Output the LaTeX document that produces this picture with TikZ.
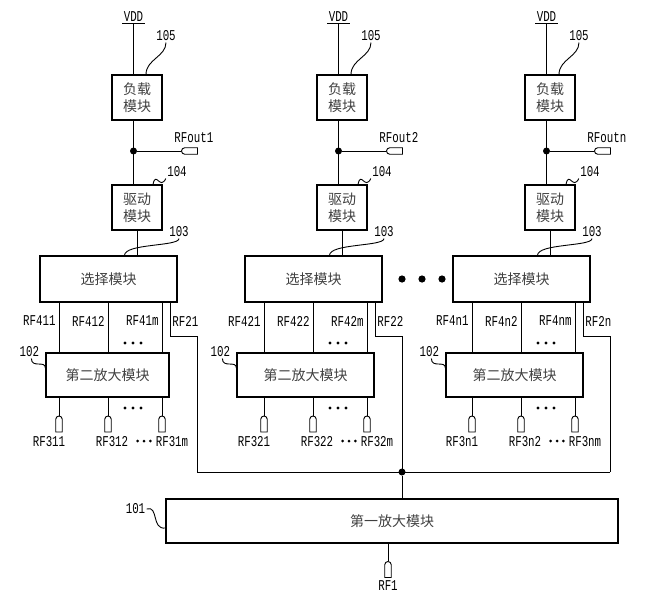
\documentclass[tikz,border=0pt]{standalone}
\usepackage{fontspec}
\setmainfont{Liberation Mono}[FakeStretch=0.72]
\newfontfamily\cjk{Noto Sans CJK SC}
\usetikzlibrary{shapes.misc}

\begin{document}
\begin{tikzpicture}[x=1pt, y=-1pt, line width=0.9pt,
  blk/.style={draw, line width=1.2pt, inner sep=0pt, align=center, text=black!75, font=\cjk\fontsize{14}{17}\selectfont},
  lbl/.style={inner sep=1pt, font=\fontsize{15}{17}\selectfont},
  port/.style={draw, line width=0.9pt, rounded rectangle, rounded rectangle east arc=none, minimum width=16pt, minimum height=6.5pt, inner sep=0pt},
  dot/.style={circle, fill, inner sep=0pt, minimum size=7pt}]
  \useasboundingbox (0,0) rectangle (662,605);

  \foreach \col/\nn/\cx/\aw/\ao in {1/1/137/123/-29.5, 2/2/342/137/-36.5, 3/n/550/137/-35.5}{
    % supply, load and driver
    \node[lbl, anchor=south] (vdd\col) at ({\cx-3.5},23) {VDD};
    \draw (vdd\col.south west) -- (vdd\col.south east);
    \node[blk, minimum width=50pt, minimum height=45pt] (load\col) at (\cx,97.5) {负载\\模块};
    \node[blk, minimum width=50pt, minimum height=45pt] (drv\col) at (\cx,207.5) {驱动\\模块};
    \node[dot] (j\col) at ({\cx-3.5},151) {};
    \node[port] (out\col) at ({\cx+52.5},151) {};
    \node[lbl, anchor=west] (rfo\col) at ({\cx+36},138) {RFout\nn};
    \draw (vdd\col.south) -- (load\col.north -| vdd\col.south);
    \draw (load\col.south -| j\col) -- (drv\col.north -| j\col);
    \draw (j\col) -- (out\col.west);

    % selection and second amplifier
    \node[blk, minimum width=137pt, minimum height=46pt] (sel\col) at ({\cx-28.5},279) {选择模块};
    \node[blk, minimum width=\aw pt, minimum height=44pt] (amp\col) at ({\cx+(\ao)},375) {第二放大模块};
    \draw (drv\col.south) -- (sel\col.north -| drv\col.south);
    \foreach \k/\dx/\m/\bx in {1/-78/1/-10, 2/-29/2/4, 3/25/m/10}{
      \node[port, rotate=-90] (p\col\k) at ({\cx+(\dx)},424) {};
      \draw (sel\col.south -| p\col\k) -- (amp\col.north -| p\col\k);
      \draw (amp\col.south -| p\col\k) -- (p\col\k.west);
      \node[lbl, anchor=east] (t\col\k) at ({\cx+(\dx)-2},321) {RF4\nn\m};
      \node[lbl] (b\col\k) at ({\cx+(\dx)+(\bx)},442) {RF3\nn\m};
    }
    \foreach \d in {-8,0,8}{
      \fill ({\cx-4+\d},343) circle (1.6pt);
      \fill ({\cx-4+\d},408) circle (1.6pt);
      \fill ({\cx+7+\d*0.8},441) circle (1.5pt);
    }
    \coordinate (k\col) at ({\cx+33},336);
    \coordinate (bus\col) at ({\cx+60},472);
    \draw (sel\col.south -| k\col) -- (k\col) -| (bus\col);
    \node[lbl, anchor=west] (t\col4) at ({\cx+34},321) {RF2\nn};

    % reference numbers
    \node[lbl] (n105\col) at ({\cx+29},36) {105};
    \draw ([xshift=9pt]load\col.north) .. controls +(0,-15) and +(0,14) .. (n105\col.south);
    \node[lbl] (n104\col) at ({\cx+40},172) {104};
    \draw ([xshift=16pt]drv\col.north) .. controls +(3,-14) and +(-6,12) .. (n104\col.south west);
    \node[lbl] (n103\col) at ({\cx+42},232) {103};
    \draw ([xshift=16pt]sel\col.north) .. controls +(0,-12) and +(0,8) .. (n103\col.south);
    \node[lbl] (n102\col) at ([xshift=-16pt,yshift=23pt]amp\col.west) {102};
    \draw ([xshift=2pt]n102\col.south) .. controls +(0,10) and +(0,-8) .. ([yshift=7pt]amp\col.west);
  }

  \foreach \d in {402,422,442}
    \fill (\d,279) circle (3.6pt);

  % first amplifier
  \node[blk, minimum width=452pt, minimum height=44pt] (amp0) at (392,521) {第一放大模块};
  \node[dot] (jb) at (bus2) {};
  \draw (bus1) -- (bus3);
  \draw (jb) -- (amp0.north -| jb);
  \node[port, rotate=-90] (p0) at (388,569.5) {};
  \draw (amp0.south -| p0) -- (p0.west);
  \node[lbl] (rf1) at (388,586) {RF1};
  \node[lbl] (n101) at (135.5,509) {101};
  \draw (n101.east) .. controls +(12,-4) and +(-14,2) .. ([yshift=-7pt]amp0.west);
\end{tikzpicture}
\end{document}
